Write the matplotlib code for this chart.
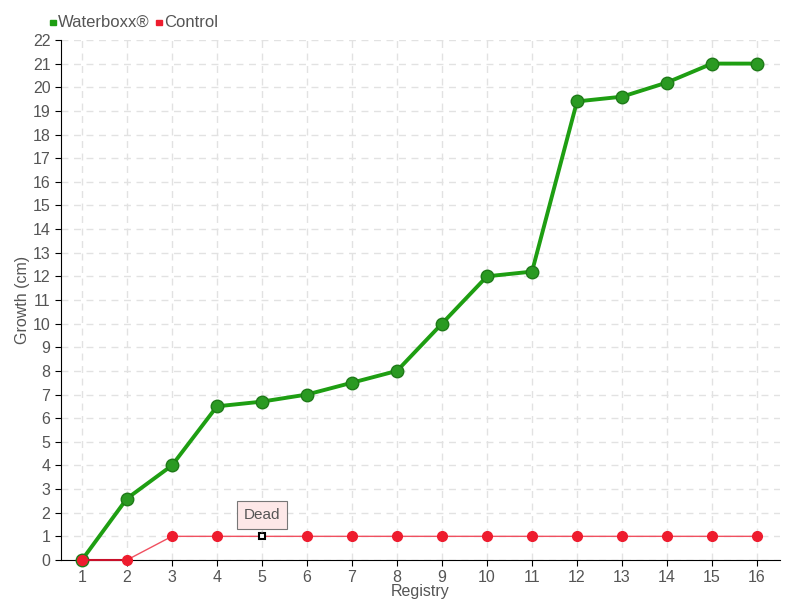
import numpy as np
import matplotlib.pyplot as plt
from matplotlib.patches import Rectangle

plt.rcParams['font.family'] = ['Liberation Sans', 'DejaVu Sans']

registry = list(range(1, 17))
waterboxx = [0, 2.6, 4, 6.5, 6.7, 7, 7.5, 8, 10, 12, 12.2, 19.4, 19.6, 20.2, 21, 21]
control = [0, 0, 1, 1, 1, 1, 1, 1, 1, 1, 1, 1, 1, 1, 1, 1]
dead_idx = 4

fig = plt.figure(figsize=(8, 6), dpi=100)
ax = fig.add_axes([0.076, 0.0667, 0.899, 0.8667])

green = '#1e9e12'
red = '#ee1c2e'
txt = '#555555'

ax.plot(registry, waterboxx, color=green, lw=2.8, zorder=3, clip_on=False,
        marker='o', ms=9, mfc='#2a9a22', mec='#1e7a18', mew=1)

ax.plot(registry, control, color='#f05060', lw=1, zorder=4, clip_on=False)
ax.plot(registry[:2], control[:2], color='#c8102a', lw=1.5, zorder=4, clip_on=False)
alive = [i for i in range(len(registry)) if i != dead_idx]
ax.plot([registry[i] for i in alive], [control[i] for i in alive], ls='none',
        marker='o', ms=7, mfc=red, mec=red, zorder=5, clip_on=False)
ax.plot(registry[dead_idx], control[dead_idx], ls='none', marker='s', ms=5,
        mfc='white', mec='black', mew=1.5, zorder=5)

ax.annotate('Dead', xy=(registry[dead_idx], control[dead_idx] + 0.15),
            xytext=(registry[dead_idx], control[dead_idx] + 0.9),
            ha='center', va='center', fontsize=11, color=txt,
            bbox=dict(boxstyle='square,pad=0.45', fc='#fde8e8', ec='#777777', lw=0.8),
            arrowprops=dict(arrowstyle='-', color='#777777', lw=0.8), zorder=6)

ax.set_xlim(0.53, 16.51)
ax.set_ylim(0, 22)
ax.set_xticks(registry)
ax.set_yticks(range(0, 23))
ax.tick_params(labelcolor=txt, labelsize=11.5, length=4, color='black')
ax.grid(True, ls=(0, (5, 4)), color='#e2e2e2', lw=1)
ax.set_axisbelow(True)
for s in ['top', 'right']:
    ax.spines[s].set_visible(False)
ax.spines['left'].set_color('black')
ax.spines['bottom'].set_color('black')
ax.spines['bottom'].set_zorder(2)
ax.set_xlabel('Registry', color=txt, fontsize=11.5, labelpad=-1)
ax.set_ylabel('Growth (cm)', color=txt, fontsize=11.5, labelpad=2)

# legend drawn by hand at the top left
fig.add_artist(Rectangle((0.0625, 0.958), 0.007, 0.009, color=green, transform=fig.transFigure))
t1 = fig.text(0.073, 0.963, 'Waterboxx®', color=txt, fontsize=12, va='center')
fig.canvas.draw()
x_end = t1.get_window_extent().x1 / 800
fig.add_artist(Rectangle((x_end + 0.008, 0.958), 0.007, 0.009, color=red, transform=fig.transFigure))
fig.text(x_end + 0.018, 0.963, 'Control', color=txt, fontsize=12, va='center')

fig.savefig('out.png', dpi=100)
